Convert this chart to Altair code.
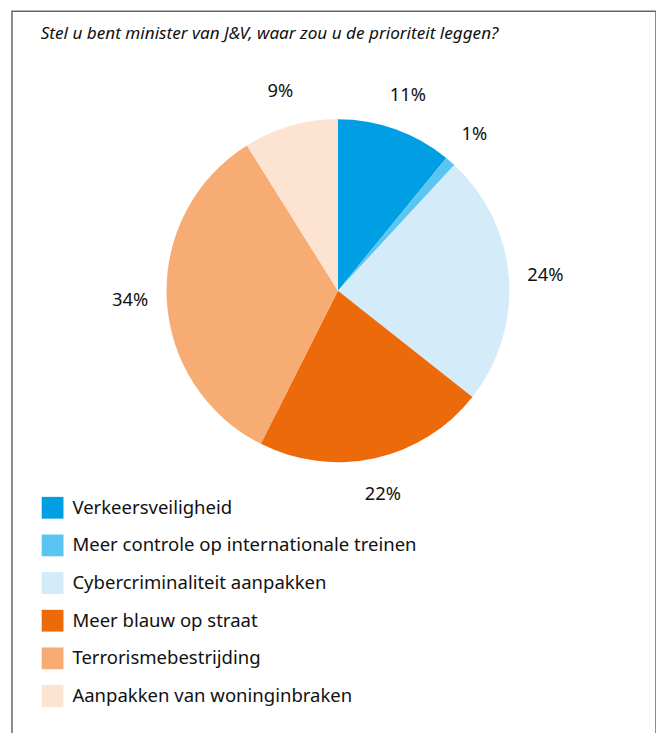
import altair as alt
import pandas as pd

categories = [
    "Verkeersveiligheid",
    "Meer controle op internationale treinen",
    "Cybercriminaliteit aanpakken",
    "Meer blauw op straat",
    "Terrorismebestrijding",
    "Aanpakken van woninginbraken",
]
values = [11, 1, 24, 22, 34, 9]
labels = ["11%", "1%", "24%", "22%", "34%", "9%"]
colors = ["#009FE3", "#5BC5F2", "#D4ECFA", "#EC6A0A", "#F6AC72", "#FDE3D2"]

df = pd.DataFrame({
    "categorie": categories,
    "waarde": values,
    "label": labels,
    "volgorde": list(range(len(categories))),
})

FONT = "Noto Sans"
CX, CY = 329, 282

base = alt.Chart(df).encode(
    theta=alt.Theta("waarde:Q", stack=True),
    order=alt.Order("volgorde:Q"),
    x=alt.value(CX),
    y=alt.value(CY),
)

pie = base.mark_arc(outerRadius=173, stroke=None).encode(
    color=alt.Color(
        "categorie:N",
        scale=alt.Scale(domain=categories, range=colors),
        sort=categories,
        legend=alt.Legend(
            title=None,
            orient="none",
            legendX=30,
            legendY=490,
            symbolType="square",
            symbolSize=484,
            symbolStrokeWidth=0,
            symbolOpacity=1,
            labelFont=FONT,
            labelFontSize=18.7,
            labelColor="#111111",
            labelOffset=9,
            rowPadding=16,
            padding=0,
            labelLimit=500,
        ),
    )
)

text = base.mark_text(
    radius=210, font=FONT, fontSize=18.5, color="#111111",
    align="center", baseline="middle",
).encode(
    text="label:N",
    detail="categorie:N",
)

chart = (
    alt.layer(pie, text)
    .properties(
        width=650,
        height=730,
        padding={"left": 4, "top": 0, "right": 0, "bottom": 0},
        autosize=alt.AutoSizeParams(type="none"),
        title=alt.TitleParams(
            "Stel u bent minister van J&V, waar zou u de prioriteit leggen?",
            anchor="start",
            orient="top",
            offset=-31,
            dx=29,
            font=FONT,
            fontSize=17.3,
            fontStyle="italic",
            fontWeight="normal",
            color="#111111",
        ),
    )
    .configure_view(stroke="#666666", strokeWidth=1.5)
)

chart.save("out.html", embed_options={"renderer": "svg", "actions": False})
